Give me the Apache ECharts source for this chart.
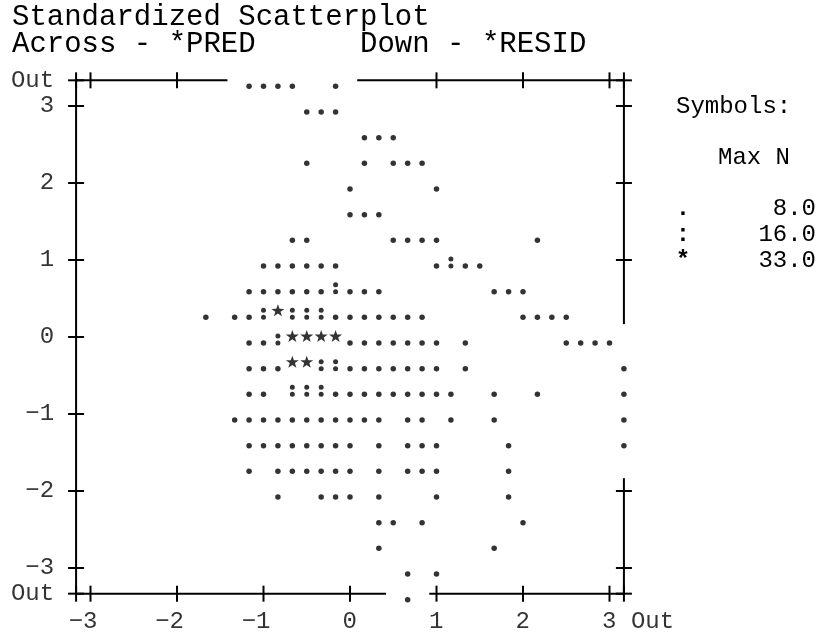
<!DOCTYPE html>
<html>
<head>
<meta charset="utf-8">
<title>Standardized Scatterplot</title>
<script src="https://cdn.jsdelivr.net/npm/echarts@6/dist/echarts.min.js"></script>
<style>
  html, body { margin: 0; padding: 0; background: #fff; }
  #main { width: 821px; height: 636px; }
</style>
</head>
<body>
<div id="main"></div>
<script>
// SPSS character plot: one PRED column = 1/6 SD, one RESID row = 1/3 SD
const predTicks = [-3, -2, -1, 0, 1, 2, 3];
const predTickLabels = ['−3', '−2', '−1', '0', '1', '2', '3'];
const residTicks = [3, 2, 1, 0, -1, -2, -3];
const residTickLabels = ['3', '2', '1', '0', '−1', '−2', '−3'];
const outLabel = 'Out';

// rows of the plot (top Out row = 10, bottom Out row = -10) and the columns holding a '.'
const residRows = [10, 9, 8, 7, 6, 5, 4, 3, 2, 1, 0, -1, -2, -3, -4, -5, -6, -7, -8, -9, -10];
const dotCols = [
  [-7, -6, -5, -4, -1],
  [-3, -2, -1],
  [1, 2, 3],
  [-3, 1, 3, 4, 5],
  [0, 6],
  [0, 1, 2],
  [-4, -3, 3, 4, 5, 6, 13],
  [-6, -5, -4, -3, -2, -1, 6, 8, 9],
  [-7, -6, -5, -4, -3, -2, 0, 1, 2, 10, 11, 12],
  [-10, -8, -7, -1, 0, 1, 2, 3, 4, 5, 12, 13, 14, 15],
  [-7, -6, 0, 1, 2, 3, 4, 5, 6, 8, 15, 16, 17, 18],
  [-7, -6, -5, 0, 1, 2, 3, 4, 5, 6, 8, 19],
  [-7, -6, -1, 0, 1, 2, 3, 4, 5, 6, 7, 10, 13, 19],
  [-8, -7, -6, -5, -4, -3, -2, -1, 0, 1, 2, 4, 5, 7, 10, 19],
  [-7, -6, -5, -4, -3, -2, -1, 0, 2, 4, 5, 6, 11, 19],
  [-7, -5, -4, -3, -2, -1, 0, 2, 4, 5, 6, 11],
  [-5, -2, -1, 0, 2, 6, 11],
  [2, 3, 5, 12],
  [2, 10],
  [4, 6],
  [4]
];
// [column, row] of the ':' and '*' cells
const colonCells = [[7, 3], [-1, 2], [-6, 1], [-4, 1], [-3, 1], [-2, 1], [-5, 0],
  [-2, -1], [-1, -1], [-4, -2], [-3, -2], [-2, -2]];
const starCells = [[-5, 1], [-4, 0], [-3, 0], [-2, 0], [-1, 0], [-4, -1], [-3, -1]];

const symbolChars = ['.', ':', '*'];
const symbolMaxN = [8.0, 16.0, 33.0];

const COLS_PER_SD = 6;
const ROWS_PER_SD = 3;
const OUT_COL = 19;
const OUT_ROW = 10;
const MONO = '"Liberation Mono", "Courier New", monospace';

const toXY = (c, r) => [c / COLS_PER_SD, r / ROWS_PER_SD];

const dotData = [];
residRows.forEach((r, i) => dotCols[i].forEach(c => dotData.push(toXY(c, r))));
const colonData = colonCells.map(([c, r]) => toXY(c, r));
const starData = starCells.map(([c, r]) => toXY(c, r));

// the frame is blanked one cell either side of the outliers printed on it
function gapOf(list) {
  if (!list.length) return null;
  return [Math.min(...list) - 1.5, Math.max(...list) + 1.5];
}
const topGap = gapOf(dotCols[0]);
const bottomGap = gapOf(dotCols[dotCols.length - 1]);
const rightGap = gapOf(residRows.filter((r, i) => dotCols[i].includes(OUT_COL)));
const leftGap = gapOf(residRows.filter((r, i) => dotCols[i].includes(-OUT_COL)));

function split(a, b, gap) {
  return gap ? [[a, gap[0]], [gap[1], b]] : [[a, b]];
}
const inGap = (v, gap) => gap && v > gap[0] && v < gap[1];

const frameSegs = [];
split(-OUT_COL, OUT_COL, topGap).forEach(([a, b]) => frameSegs.push([...toXY(a, OUT_ROW), ...toXY(b, OUT_ROW)]));
split(-OUT_COL, OUT_COL, bottomGap).forEach(([a, b]) => frameSegs.push([...toXY(a, -OUT_ROW), ...toXY(b, -OUT_ROW)]));
split(-OUT_ROW, OUT_ROW, leftGap).forEach(([a, b]) => frameSegs.push([...toXY(-OUT_COL, a), ...toXY(-OUT_COL, b)]));
split(-OUT_ROW, OUT_ROW, rightGap).forEach(([a, b]) => frameSegs.push([...toXY(OUT_COL, a), ...toXY(OUT_COL, b)]));

const xTickCols = [-OUT_COL, ...predTicks.map(v => v * COLS_PER_SD), OUT_COL];
const yTickRows = [OUT_ROW, ...residTicks.map(v => v * ROWS_PER_SD), -OUT_ROW];
const tickData = []; // [x, y, vertical?]
xTickCols.forEach(c => {
  if (!inGap(c, topGap)) tickData.push([...toXY(c, OUT_ROW), 1]);
  if (!inGap(c, bottomGap)) tickData.push([...toXY(c, -OUT_ROW), 1]);
});
yTickRows.forEach(r => {
  if (!inGap(r, leftGap)) tickData.push([...toXY(-OUT_COL, r), 0]);
  if (!inGap(r, rightGap)) tickData.push([...toXY(OUT_COL, r), 0]);
});

const yLabelText = [outLabel, ...residTickLabels, outLabel];
const yLabelData = yTickRows.map(r => toXY(-OUT_COL, r));
const xLabelText = [...predTickLabels, outLabel];
const xLabelData = [...predTicks.map(v => [v, -OUT_ROW / ROWS_PER_SD]), toXY(OUT_COL, -OUT_ROW)];

const colonPath = 'path://M-2.5,0A2.5,2.5 0 1,0 2.5,0A2.5,2.5 0 1,0 -2.5,0Z' +
  'M-2.5,7A2.5,2.5 0 1,0 2.5,7A2.5,2.5 0 1,0 -2.5,7Z';
const starPath = 'path://M0,-10L2.35,-3.24L9.51,-3.09L3.8,1.24L5.88,8.09L0,4L-5.88,8.09' +
  'L-3.8,1.24L-9.51,-3.09L-2.35,-3.24Z';

const chart = echarts.init(document.getElementById('main'));

const option = {
  backgroundColor: '#fff',
  animation: false,
  grid: { left: 47.25, top: 67.5, width: 605.5, height: 539 },
  xAxis: { type: 'value', min: -3.5, max: 3.5, show: false },
  yAxis: { type: 'value', min: -3.5, max: 3.5, show: false },
  graphic: [
    { type: 'text', x: 12, y: 17, style: { text: 'Standardized Scatterplot', fontFamily: MONO, fontSize: 29, fill: '#000', verticalAlign: 'middle' } },
    { type: 'text', x: 12, y: 44, style: { text: 'Across - *PRED      Down - *RESID', fontFamily: MONO, fontSize: 29, fill: '#000', verticalAlign: 'middle' } },
    { type: 'text', x: 676, y: 107, style: { text: 'Symbols:', fontFamily: MONO, fontSize: 24, fill: '#000', verticalAlign: 'middle' } },
    { type: 'text', x: 790, y: 158, style: { text: 'Max N', fontFamily: MONO, fontSize: 24, fill: '#000', align: 'right', verticalAlign: 'middle' } },
    ...symbolChars.map((s, i) => ({
      type: 'text', x: 683, y: 209 + i * 26,
      style: { text: s, fontFamily: MONO, fontSize: 24, fontWeight: 'bold', fill: '#000', align: 'center', verticalAlign: 'middle' }
    })),
    ...symbolMaxN.map((v, i) => ({
      type: 'text', x: 816, y: 209 + i * 26,
      style: { text: v.toFixed(1), fontFamily: MONO, fontSize: 24, fill: '#000', align: 'right', verticalAlign: 'middle' }
    }))
  ],
  series: [
    {
      type: 'custom',
      name: 'frame',
      silent: true,
      data: frameSegs,
      renderItem: (params, api) => {
        const p1 = api.coord([api.value(0), api.value(1)]);
        const p2 = api.coord([api.value(2), api.value(3)]);
        return {
          type: 'line',
          shape: { x1: p1[0], y1: p1[1], x2: p2[0], y2: p2[1] },
          style: { stroke: '#000', lineWidth: 2 }
        };
      }
    },
    {
      type: 'custom',
      name: 'ticks',
      silent: true,
      data: tickData,
      renderItem: (params, api) => {
        const p = api.coord([api.value(0), api.value(1)]);
        const v = api.value(2) === 1;
        const h = 8;
        return {
          type: 'line',
          shape: v ? { x1: p[0], y1: p[1] - h, x2: p[0], y2: p[1] + h }
                   : { x1: p[0] - h, y1: p[1], x2: p[0] + h, y2: p[1] },
          style: { stroke: '#000', lineWidth: 2 }
        };
      }
    },
    {
      type: 'scatter',
      name: '.',
      data: dotData,
      symbol: 'circle',
      symbolSize: 5.5,
      symbolOffset: [0, 6],
      itemStyle: { color: '#000' }
    },
    {
      type: 'scatter',
      name: ':',
      data: colonData,
      symbol: colonPath,
      symbolSize: [5, 12],
      symbolOffset: [0, 2.5],
      itemStyle: { color: '#000' }
    },
    {
      type: 'scatter',
      name: '*',
      data: starData,
      symbol: starPath,
      symbolSize: [13, 12],
      symbolOffset: [0, -1],
      itemStyle: { color: '#000' }
    },
    {
      type: 'scatter',
      name: 'yLabels',
      silent: true,
      data: yLabelData,
      symbolSize: 0,
      label: {
        show: true,
        position: 'left',
        distance: 22,
        formatter: p => yLabelText[p.dataIndex],
        fontFamily: MONO,
        fontSize: 24,
        color: '#000'
      }
    },
    {
      type: 'scatter',
      name: 'xLabels',
      silent: true,
      data: xLabelData,
      symbolSize: 0,
      label: {
        show: true,
        position: 'inside',
        formatter: p => xLabelText[p.dataIndex],
        align: 'right',
        verticalAlign: 'middle',
        offset: [7, 28],
        fontFamily: MONO,
        fontSize: 24,
        color: '#000'
      }
    }
  ]
};

// the Out label under the right frame starts one cell after it
option.series[6].data = xLabelData.map((d, i) => i === xLabelText.length - 1
  ? { value: d, label: { align: 'left', offset: [7, 28] } }
  : d);

chart.setOption(option);
</script>
</body>
</html>
